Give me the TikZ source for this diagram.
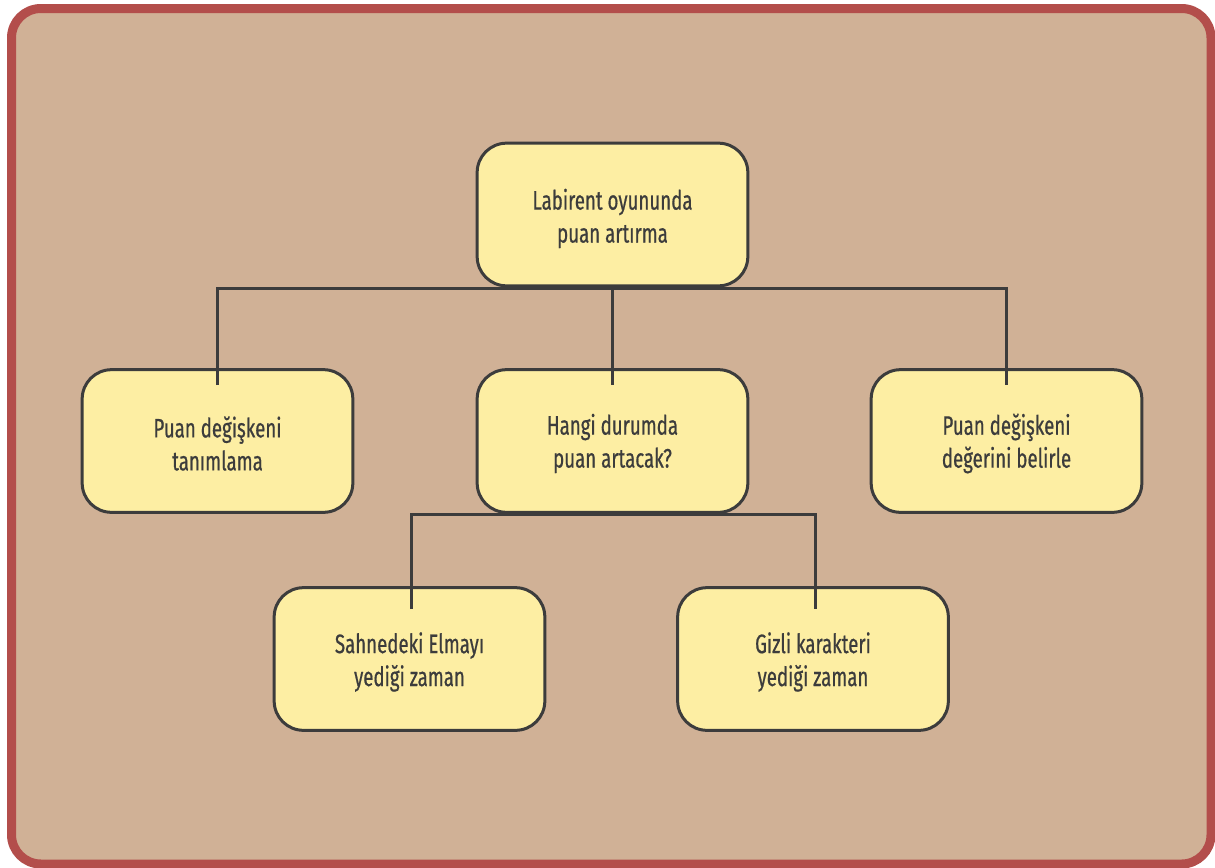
\documentclass[tikz,border=0pt]{standalone}
\usepackage{fontspec}
\setmainfont{Fira Sans}[FakeStretch=0.70,FakeBold=0.6]
\usetikzlibrary{calc}

\definecolor{frameRed}{HTML}{B34E4B}
\definecolor{paperTan}{HTML}{D0B196}
\definecolor{boxYellow}{HTML}{FDEEA3}
\definecolor{inkGray}{HTML}{3C3C3C}

\tikzset{every picture/.style={line width=0.75pt}}
\tikzset{
  topicbox/.style={draw=inkGray, fill=boxYellow, line width=2.25pt, rounded corners=22pt,
    minimum width=203pt, minimum height=107pt},
  topictext/.style={align=center, text=inkGray, inner sep=0pt,
    font=\fontsize{20}{24.7}\selectfont},
  branch/.style={draw=inkGray, line width=2.25pt}
}

\begin{document}
\begin{tikzpicture}[x=0.75pt,y=0.75pt,yscale=-1,xscale=1]
	\useasboundingbox (0,0) rectangle (1215,868);
	
	%Shape: Rounded Rect [id:frame] 
	\draw [draw=frameRed, fill=paperTan, line width=6.75pt, rounded corners=22pt] (11.5,8.5) rectangle (1211,864);
	
	%Rounded Rect boxes
	\node [topicbox] (goal) at (612.5,214.5) {};
	\node [topicbox] (define) at (217.5,441) {};
	\node [topicbox] (when) at (612.5,441) {};
	\node [topicbox] (setval) at (1006.5,441) {};
	\node [topicbox] (apple) at (409.5,659) {};
	\node [topicbox] (secret) at (813,659) {};
	
	% Text Node
	\node [topictext] (goal-t) at ($(goal)+(0,4)$) {Labirent oyununda\\puan artırma};
	% Text Node
	\node [topictext] (define-t) at ($(define)+(0,2.5)$) {Puan değişkeni\\tanımlama};
	% Text Node
	\node [topictext] (when-t) at ($(when)+(0,2.5)$) {Hangi durumda\\puan artacak?};
	% Text Node
	\node [topictext] (setval-t) at ($(setval)+(0,2.5)$) {Puan değişkeni\\değerini belirle};
	% Text Node
	\node [topictext] (apple-t) at ($(apple)+(0,3)$) {Sahnedeki Elmayı\\yediği zaman};
	% Text Node
	\node [topictext] (secret-t) at ($(secret)+(0,3)$) {Gizli karakteri\\yediği zaman};
	
	%Straight Lines [id:goal-branches] 
	\draw [branch] ($(define.north)+(0,17)$) |- ($(goal.south)+(0,1)$) -| ($(setval.north)+(0,17)$);
	\draw [branch] ($(goal.south)+(0,1)$) -- ($(when.north)+(0,17)$);
	%Straight Lines [id:when-branches] 
	\draw [branch] ($(apple.north)+(1.5,23)$) |- ($(when.south)+(0,0.5)$) -| ($(secret.north)+(2,23)$);
	
\end{tikzpicture}
\end{document}
